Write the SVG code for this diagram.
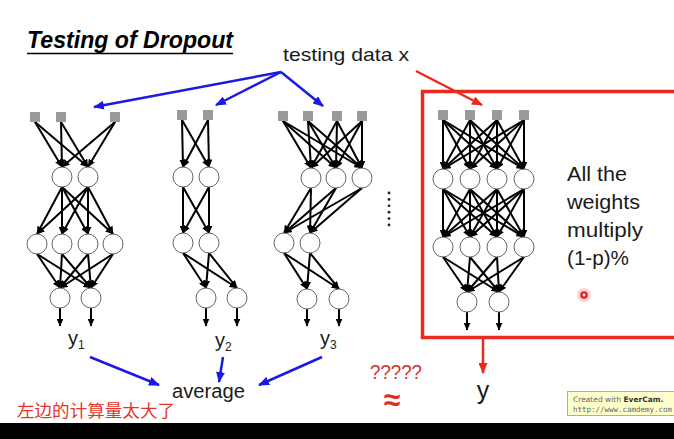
<svg xmlns="http://www.w3.org/2000/svg" width="674" height="439" viewBox="0 0 674 439">
<defs>
<marker id="ah" markerUnits="userSpaceOnUse" markerWidth="8" markerHeight="7" refX="7.5" refY="3.5" orient="auto"><path d="M0,0 L8,3.5 L0,7 z" fill="#000"/></marker>
<marker id="ab" markerUnits="userSpaceOnUse" markerWidth="11" markerHeight="9" refX="10" refY="4.5" orient="auto"><path d="M0,0 L11,4.5 L0,9 z" fill="#1a1ae0"/></marker>
<marker id="ar" markerUnits="userSpaceOnUse" markerWidth="11" markerHeight="9" refX="10" refY="4.5" orient="auto"><path d="M0,0 L11,4.5 L0,9 z" fill="#ea2a1e"/></marker>
</defs>
<style>
.c{stroke:#000;stroke-width:2;marker-end:url(#ah);fill:none}
.n{fill:#fff;stroke:#666;stroke-width:1}
.s{fill:#9a9a9a}
.b{stroke:#1a1ae0;stroke-width:2.5;marker-end:url(#ab);fill:none}
.r{stroke:#ea2a1e;stroke-width:2.5;marker-end:url(#ar);fill:none}
.t{font-family:"Liberation Sans",Arial,sans-serif;fill:#1a1a1a}
.red{fill:#d23030}
</style>
<rect width="674" height="439" fill="#fff"/>

<g id="title">
<text class="t" x="27" y="48" font-size="23" font-weight="bold" font-style="italic" textLength="206" lengthAdjust="spacingAndGlyphs" style="fill:#000">Testing of Dropout</text>
<line x1="27" y1="53.5" x2="233" y2="53.5" stroke="#000" stroke-width="1.5"/>
</g>

<g id="testing-data">
<text class="t" x="283" y="61" font-size="19" textLength="126" lengthAdjust="spacingAndGlyphs">testing data x</text>
</g>

<g id="red-box">
<path d="M680,91.5 L422.5,91.5 L422.5,337.5 L680,337.5" fill="none" stroke="#ea2a1e" stroke-width="3.5"/>
</g>

<g id="connectors">
<line class="b" x1="281" y1="72" x2="94" y2="107"/>
<line class="b" x1="281" y1="72" x2="216" y2="105"/>
<line class="b" x1="281" y1="72" x2="323" y2="106"/>
<line class="r" x1="416" y1="71" x2="482" y2="105"/>
<line class="r" x1="483" y1="339" x2="483" y2="373"/>
<line class="b" x1="90" y1="357" x2="159" y2="385"/>
<line class="b" x1="223" y1="357" x2="219" y2="382"/>
<line class="b" x1="322" y1="357" x2="259" y2="385"/>

<line class="c" x1="35" y1="122" x2="62" y2="167"/>
<line class="c" x1="35" y1="122" x2="88" y2="167"/>
<line class="c" x1="61" y1="122" x2="62" y2="167"/>
<line class="c" x1="61" y1="122" x2="88" y2="167"/>
<line class="c" x1="115" y1="122" x2="62" y2="167"/>
<line class="c" x1="115" y1="122" x2="88" y2="167"/>
<line class="c" x1="62" y1="187" x2="37" y2="234"/>
<line class="c" x1="62" y1="187" x2="62" y2="234"/>
<line class="c" x1="62" y1="187" x2="88" y2="234"/>
<line class="c" x1="62" y1="187" x2="113" y2="234"/>
<line class="c" x1="88" y1="187" x2="37" y2="234"/>
<line class="c" x1="88" y1="187" x2="62" y2="234"/>
<line class="c" x1="88" y1="187" x2="88" y2="234"/>
<line class="c" x1="88" y1="187" x2="113" y2="234"/>
<line class="c" x1="37" y1="254" x2="60" y2="288"/>
<line class="c" x1="37" y1="254" x2="91" y2="288"/>
<line class="c" x1="62" y1="254" x2="60" y2="288"/>
<line class="c" x1="62" y1="254" x2="91" y2="288"/>
<line class="c" x1="88" y1="254" x2="60" y2="288"/>
<line class="c" x1="88" y1="254" x2="91" y2="288"/>
<line class="c" x1="113" y1="254" x2="60" y2="288"/>
<line class="c" x1="113" y1="254" x2="91" y2="288"/>
<line class="c" x1="60" y1="308" x2="60" y2="326"/>
<line class="c" x1="91" y1="308" x2="91" y2="326"/>

<line class="c" x1="182" y1="120" x2="183" y2="167"/>
<line class="c" x1="182" y1="120" x2="209" y2="167"/>
<line class="c" x1="208" y1="120" x2="183" y2="167"/>
<line class="c" x1="208" y1="120" x2="209" y2="167"/>
<line class="c" x1="183" y1="187" x2="183" y2="233"/>
<line class="c" x1="183" y1="187" x2="209" y2="233"/>
<line class="c" x1="209" y1="187" x2="183" y2="233"/>
<line class="c" x1="209" y1="187" x2="209" y2="233"/>
<line class="c" x1="183" y1="253" x2="206" y2="288"/>
<line class="c" x1="183" y1="253" x2="237" y2="288"/>
<line class="c" x1="209" y1="253" x2="206" y2="288"/>
<line class="c" x1="209" y1="253" x2="237" y2="288"/>
<line class="c" x1="206" y1="308" x2="206" y2="326"/>
<line class="c" x1="237" y1="308" x2="237" y2="326"/>

<line class="c" x1="283" y1="121" x2="311" y2="168"/>
<line class="c" x1="283" y1="121" x2="336" y2="168"/>
<line class="c" x1="283" y1="121" x2="362" y2="168"/>
<line class="c" x1="308" y1="121" x2="311" y2="168"/>
<line class="c" x1="308" y1="121" x2="336" y2="168"/>
<line class="c" x1="308" y1="121" x2="362" y2="168"/>
<line class="c" x1="337" y1="121" x2="311" y2="168"/>
<line class="c" x1="337" y1="121" x2="336" y2="168"/>
<line class="c" x1="337" y1="121" x2="362" y2="168"/>
<line class="c" x1="362" y1="121" x2="311" y2="168"/>
<line class="c" x1="362" y1="121" x2="336" y2="168"/>
<line class="c" x1="362" y1="121" x2="362" y2="168"/>
<line class="c" x1="311" y1="188" x2="284" y2="233"/>
<line class="c" x1="311" y1="188" x2="310" y2="233"/>
<line class="c" x1="336" y1="188" x2="284" y2="233"/>
<line class="c" x1="336" y1="188" x2="310" y2="233"/>
<line class="c" x1="362" y1="188" x2="284" y2="233"/>
<line class="c" x1="362" y1="188" x2="310" y2="233"/>
<line class="c" x1="284" y1="253" x2="307" y2="289"/>
<line class="c" x1="284" y1="253" x2="339" y2="289"/>
<line class="c" x1="310" y1="253" x2="307" y2="289"/>
<line class="c" x1="310" y1="253" x2="339" y2="289"/>
<line class="c" x1="307" y1="309" x2="307" y2="326"/>
<line class="c" x1="339" y1="309" x2="339" y2="326"/>

<line class="c" x1="443" y1="120" x2="443" y2="169"/>
<line class="c" x1="443" y1="120" x2="470" y2="169"/>
<line class="c" x1="443" y1="120" x2="497" y2="169"/>
<line class="c" x1="443" y1="120" x2="524" y2="169"/>
<line class="c" x1="470" y1="120" x2="443" y2="169"/>
<line class="c" x1="470" y1="120" x2="470" y2="169"/>
<line class="c" x1="470" y1="120" x2="497" y2="169"/>
<line class="c" x1="470" y1="120" x2="524" y2="169"/>
<line class="c" x1="497" y1="120" x2="443" y2="169"/>
<line class="c" x1="497" y1="120" x2="470" y2="169"/>
<line class="c" x1="497" y1="120" x2="497" y2="169"/>
<line class="c" x1="497" y1="120" x2="524" y2="169"/>
<line class="c" x1="524" y1="120" x2="443" y2="169"/>
<line class="c" x1="524" y1="120" x2="470" y2="169"/>
<line class="c" x1="524" y1="120" x2="497" y2="169"/>
<line class="c" x1="524" y1="120" x2="524" y2="169"/>
<line class="c" x1="443" y1="189" x2="443" y2="237"/>
<line class="c" x1="443" y1="189" x2="470" y2="237"/>
<line class="c" x1="443" y1="189" x2="497" y2="237"/>
<line class="c" x1="443" y1="189" x2="524" y2="237"/>
<line class="c" x1="470" y1="189" x2="443" y2="237"/>
<line class="c" x1="470" y1="189" x2="470" y2="237"/>
<line class="c" x1="470" y1="189" x2="497" y2="237"/>
<line class="c" x1="470" y1="189" x2="524" y2="237"/>
<line class="c" x1="497" y1="189" x2="443" y2="237"/>
<line class="c" x1="497" y1="189" x2="470" y2="237"/>
<line class="c" x1="497" y1="189" x2="497" y2="237"/>
<line class="c" x1="497" y1="189" x2="524" y2="237"/>
<line class="c" x1="524" y1="189" x2="443" y2="237"/>
<line class="c" x1="524" y1="189" x2="470" y2="237"/>
<line class="c" x1="524" y1="189" x2="497" y2="237"/>
<line class="c" x1="524" y1="189" x2="524" y2="237"/>
<line class="c" x1="443" y1="257" x2="467" y2="292"/>
<line class="c" x1="443" y1="257" x2="499" y2="292"/>
<line class="c" x1="470" y1="257" x2="467" y2="292"/>
<line class="c" x1="470" y1="257" x2="499" y2="292"/>
<line class="c" x1="497" y1="257" x2="467" y2="292"/>
<line class="c" x1="497" y1="257" x2="499" y2="292"/>
<line class="c" x1="524" y1="257" x2="467" y2="292"/>
<line class="c" x1="524" y1="257" x2="499" y2="292"/>
<line class="c" x1="467" y1="312" x2="467" y2="330"/>
<line class="c" x1="499" y1="312" x2="499" y2="330"/>
</g>

<g id="net1">
<rect class="s" x="30" y="112" width="10" height="10"/>
<rect class="s" x="56" y="112" width="10" height="10"/>
<rect class="s" x="110" y="112" width="10" height="10"/>
<circle class="n" cx="62" cy="177" r="10"/>
<circle class="n" cx="88" cy="177" r="10"/>
<circle class="n" cx="37" cy="244" r="10"/>
<circle class="n" cx="62" cy="244" r="10"/>
<circle class="n" cx="88" cy="244" r="10"/>
<circle class="n" cx="113" cy="244" r="10"/>
<circle class="n" cx="60" cy="298" r="10"/>
<circle class="n" cx="91" cy="298" r="10"/>
</g>

<g id="net2">
<rect class="s" x="177" y="110" width="10" height="10"/>
<rect class="s" x="203" y="110" width="10" height="10"/>
<circle class="n" cx="183" cy="177" r="10"/>
<circle class="n" cx="209" cy="177" r="10"/>
<circle class="n" cx="183" cy="243" r="10"/>
<circle class="n" cx="209" cy="243" r="10"/>
<circle class="n" cx="206" cy="298" r="10"/>
<circle class="n" cx="237" cy="298" r="10"/>
</g>

<g id="net3">
<rect class="s" x="278" y="111" width="10" height="10"/>
<rect class="s" x="303" y="111" width="10" height="10"/>
<rect class="s" x="332" y="111" width="10" height="10"/>
<rect class="s" x="357" y="111" width="10" height="10"/>
<circle class="n" cx="311" cy="178" r="10"/>
<circle class="n" cx="336" cy="178" r="10"/>
<circle class="n" cx="362" cy="178" r="10"/>
<circle class="n" cx="284" cy="243" r="10"/>
<circle class="n" cx="310" cy="243" r="10"/>
<circle class="n" cx="307" cy="299" r="10"/>
<circle class="n" cx="339" cy="299" r="10"/>
</g>

<g id="dots" fill="#222">
<circle cx="389" cy="193" r="1.4"/>
<circle cx="389" cy="199.4" r="1.4"/>
<circle cx="389" cy="205.8" r="1.4"/>
<circle cx="389" cy="212.2" r="1.4"/>
<circle cx="389" cy="218.6" r="1.4"/>
<circle cx="389" cy="225" r="1.4"/>
</g>

<g id="net4">
<rect class="s" x="438" y="110" width="10" height="10"/>
<rect class="s" x="465" y="110" width="10" height="10"/>
<rect class="s" x="492" y="110" width="10" height="10"/>
<rect class="s" x="519" y="110" width="10" height="10"/>
<circle class="n" cx="443" cy="179" r="10"/>
<circle class="n" cx="470" cy="179" r="10"/>
<circle class="n" cx="497" cy="179" r="10"/>
<circle class="n" cx="524" cy="179" r="10"/>
<circle class="n" cx="443" cy="247" r="10"/>
<circle class="n" cx="470" cy="247" r="10"/>
<circle class="n" cx="497" cy="247" r="10"/>
<circle class="n" cx="524" cy="247" r="10"/>
<circle class="n" cx="467" cy="302" r="10"/>
<circle class="n" cx="499" cy="302" r="10"/>
</g>

<g id="weights-note">
<text class="t" x="567" y="181" font-size="20" textLength="60" lengthAdjust="spacingAndGlyphs">All the</text>
<text class="t" x="567" y="209" font-size="20" textLength="73" lengthAdjust="spacingAndGlyphs">weights</text>
<text class="t" x="567" y="237" font-size="20" textLength="76" lengthAdjust="spacingAndGlyphs">multiply</text>
<text class="t" x="567" y="265" font-size="20" textLength="62" lengthAdjust="spacingAndGlyphs">(1-p)%</text>
</g>

<g id="cursor">
<circle cx="584" cy="295" r="7" fill="#f4c0c0" opacity="0.7"/>
<circle cx="584" cy="295" r="3.8" fill="#e02020"/>
<circle cx="584" cy="295" r="1.4" fill="#fff"/>
</g>

<g id="labels">
<text class="t" x="68" y="345" font-size="20">y<tspan font-size="12" dy="4">1</tspan></text>
<text class="t" x="215" y="347" font-size="20">y<tspan font-size="12" dy="4">2</tspan></text>
<text class="t" x="320" y="345" font-size="20">y<tspan font-size="12" dy="4">3</tspan></text>
<text class="t" x="172" y="398" font-size="20" textLength="73" lengthAdjust="spacingAndGlyphs">average</text>
<text class="t" x="483" y="399" font-size="25" text-anchor="middle">y</text>
<text class="t red" x="370" y="379" font-size="20" textLength="52" lengthAdjust="spacingAndGlyphs">?????</text>
<text class="t" x="392" y="410" font-size="30" font-weight="bold" text-anchor="middle" style="fill:#e02a22">≈</text>
<text x="17" y="417" font-size="17" fill="#e8342a" font-family="'Noto Sans CJK SC',sans-serif" textLength="158" lengthAdjust="spacingAndGlyphs">左边的计算量太大了</text>
</g>

<g id="watermark">
<rect x="567.5" y="391.5" width="120" height="24" fill="#ffffcc" stroke="#b8b080" stroke-width="1"/>
<text x="573" y="402" font-size="7.5" font-family="'DejaVu Sans',sans-serif" fill="#666">Created with <tspan font-weight="bold" fill="#333">EverCam.</tspan></text>
<text x="573" y="412" font-size="7.6" font-family="'DejaVu Sans Mono',monospace" fill="#666" textLength="99" lengthAdjust="spacingAndGlyphs">http://www.camdemy.com</text>
</g>

<rect x="0" y="423" width="674" height="16" fill="#000"/>
</svg>
